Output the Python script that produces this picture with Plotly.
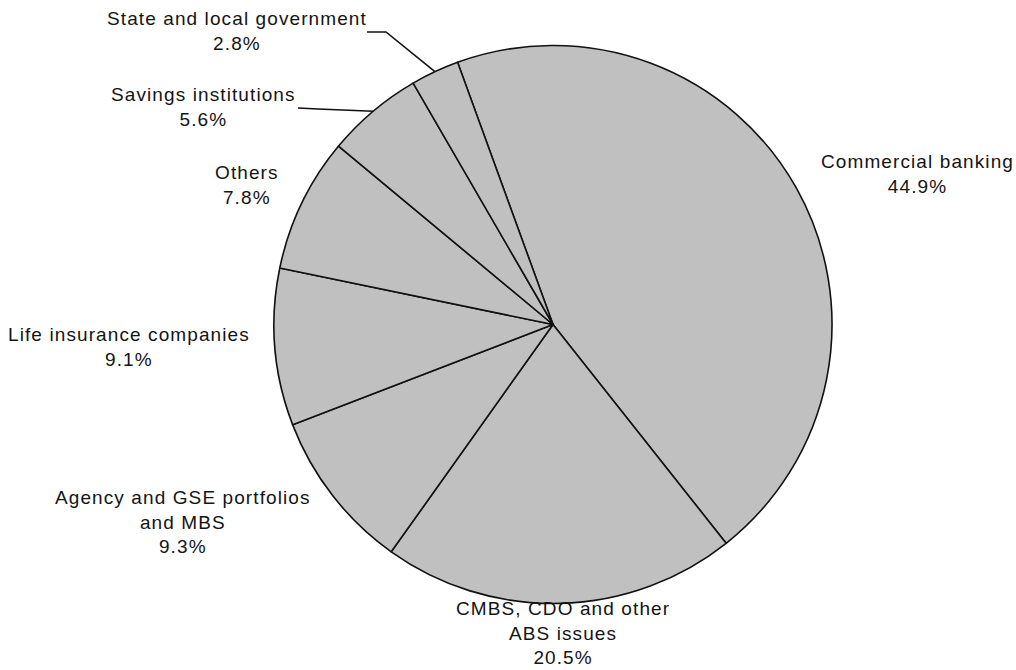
import math
import plotly.graph_objects as go

# Holders of commercial real estate debt (share of total, %)
labels = [
    "Commercial banking",
    "CMBS, CDO and other ABS issues",
    "Agency and GSE portfolios and MBS",
    "Life insurance companies",
    "Others",
    "Savings institutions",
    "State and local government",
]
label_lines = [
    ["Commercial banking"],
    ["CMBS, CDO and other", "ABS issues"],
    ["Agency and GSE portfolios", "and MBS"],
    ["Life insurance companies"],
    ["Others"],
    ["Savings institutions"],
    ["State and local government"],
]
shares = [44.9, 20.5, 9.3, 9.1, 7.8, 5.6, 2.8]

W, H = 1016, 670
CX, CY, R = 553, 324.5, 279      # pie centre and radius in pixels
START = -20                       # first slice starts 20 deg left of 12 o'clock

# label block centres (pixels) and which slices get leader lines
label_pos = {
    "Commercial banking": (917, 174),
    "CMBS, CDO and other ABS issues": (563, 633),
    "Agency and GSE portfolios and MBS": (183, 522),
    "Life insurance companies": (129, 347),
    "Others": (247, 185),
    "Savings institutions": (203, 107),
    "State and local government": (237, 31),
}
leader_elbow = {
    "State and local government": [(367, 32), (386, 32)],
    "Savings institutions": [(298, 108), (318, 109)],
}

FONT = dict(family="Liberation Sans, Arial, sans-serif", size=19, color="#141414")


def px(x):
    return x / W


def py(y):
    return 1 - y / H


fig = go.Figure(
    go.Pie(
        labels=labels,
        values=shares,
        sort=False,
        direction="clockwise",
        rotation=START,
        marker=dict(colors=["#c0c0c0"] * len(shares), line=dict(color="#111111", width=1.6)),
        textinfo="none",
        hoverinfo="label+percent",
        showlegend=False,
        domain=dict(x=[px(CX - R), px(CX + R)], y=[py(CY + R), py(CY - R)]),
    )
)

total = sum(shares)
annotations = []
shapes = []
cum = 0.0
for name, lines, v in zip(labels, label_lines, shares):
    mid = START + 360 * (cum + v / 2) / total
    cum += v
    pct = f"{v / total * 100:.1f}%"
    text = "<br>".join(
        f'<span style="letter-spacing:1.1px">{t}</span>' for t in lines + [pct]
    )
    lx, ly = label_pos[name]
    annotations.append(
        dict(
            x=px(lx), y=py(ly), xref="paper", yref="paper",
            text=text, showarrow=False, xanchor="center", yanchor="middle",
            align="center", font=FONT,
        )
    )
    if name in leader_elbow:
        ex = CX + R * math.sin(math.radians(mid))
        ey = CY - R * math.cos(math.radians(mid))
        pts = leader_elbow[name] + [(ex, ey)]
        path = "M " + " L ".join(f"{px(a):.5f},{py(b):.5f}" for a, b in pts)
        shapes.append(
            dict(type="path", path=path, xref="paper", yref="paper",
                 line=dict(color="#111111", width=1.6))
        )

fig.update_layout(
    width=W, height=H,
    margin=dict(l=0, r=0, t=0, b=0),
    paper_bgcolor="white", plot_bgcolor="white",
    annotations=annotations,
    shapes=shapes,
)

fig.write_html("out.html")
